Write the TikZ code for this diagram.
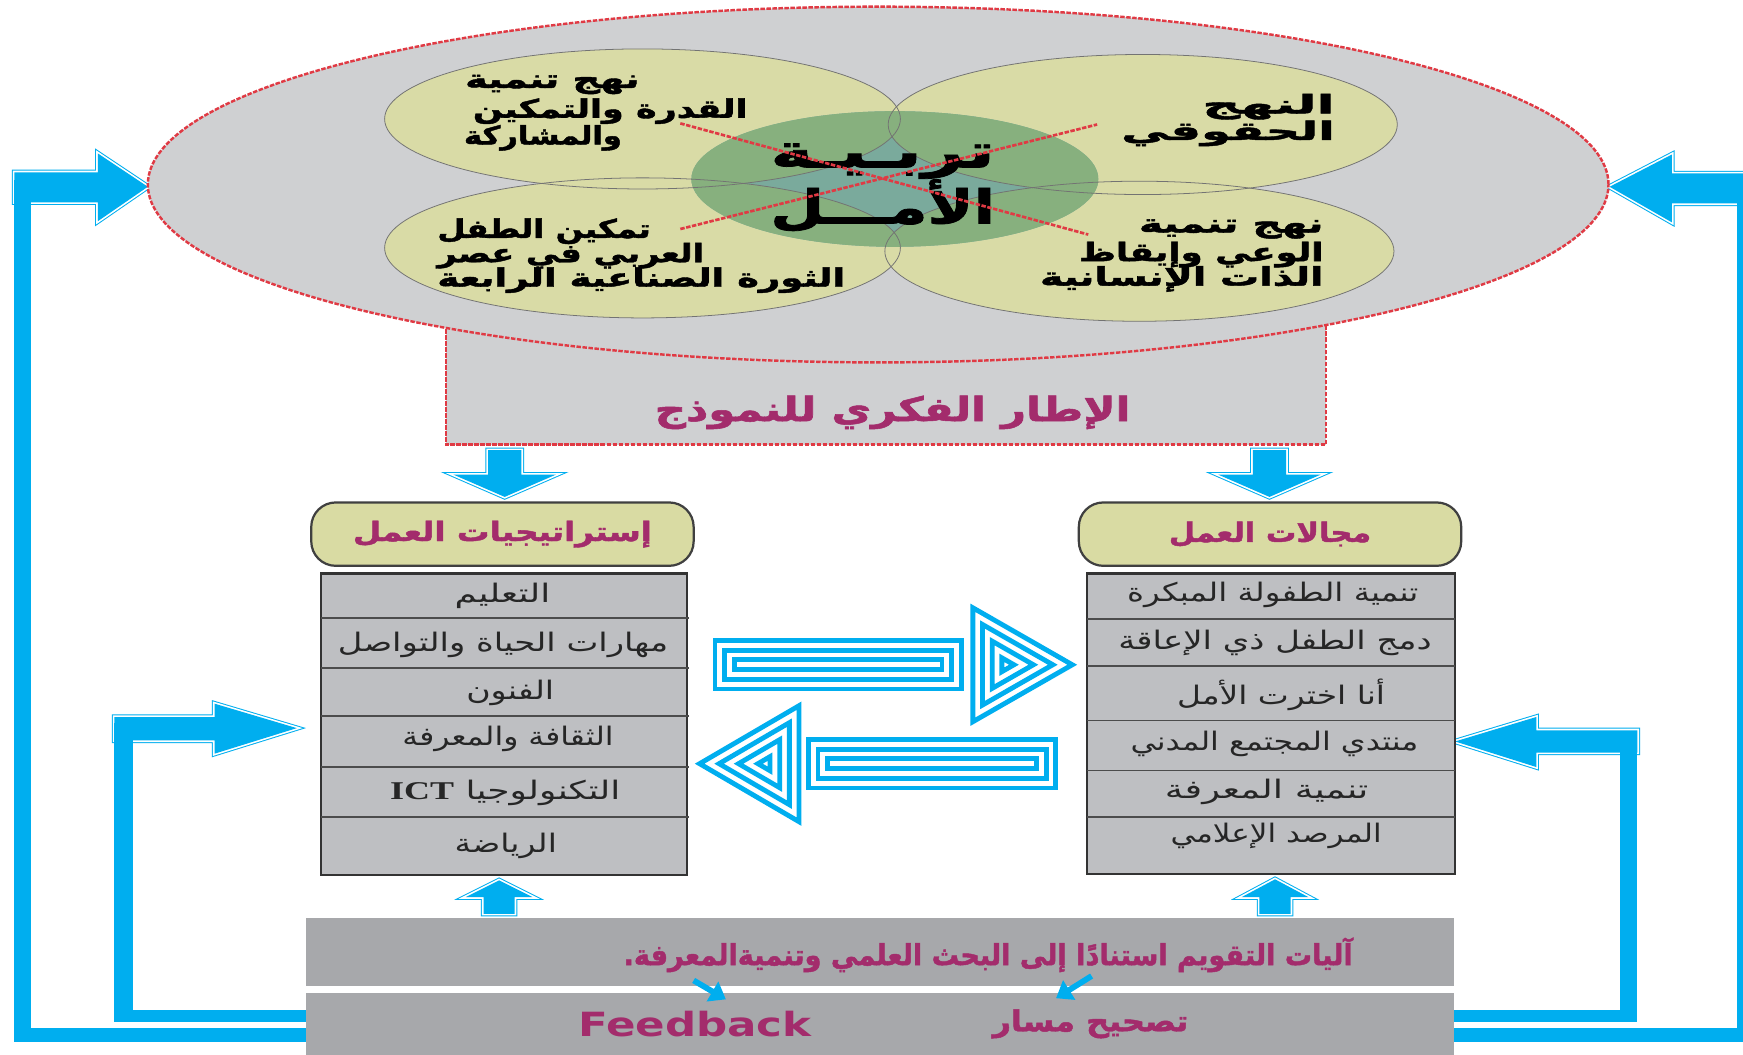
\documentclass[tikz,border=0pt]{standalone}
\usepackage{fontspec}
\usepackage{graphicx}
\TeXXeTstate=1
\newfontfamily\arb[Script=Arabic]{DejaVu Sans}
\newfontfamily\arbH[Script=Arabic, BoldFeatures={FakeBold=1.6}]{DejaVu Sans}
\newfontfamily\latb{DejaVu Sans}
\newfontfamily\serf{Liberation Serif}
\usetikzlibrary{calc,arrows.meta}
\definecolor{bggray}{HTML}{CFD0D2}
\definecolor{yel}{HTML}{D9DBA6}
\definecolor{grn}{HTML}{87B07E}
\definecolor{tealc}{HTML}{7AAA9C}
\definecolor{myred}{HTML}{E03A44}
\definecolor{myblue}{HTML}{00AEEF}
\definecolor{mag}{HTML}{A32C6C}
\definecolor{boxgray}{HTML}{BEBFC2}
\definecolor{bargray}{HTML}{A7A8AB}
\definecolor{hdr}{HTML}{D9DBA3}
\newcommand\AR[2]{\resizebox{#1}{\height}{#2}}
\newcommand\blk[1]{\path[draw=myblue,line width=2.4pt,line join=miter] #1; \path[draw=white,line width=1.5pt,line join=miter] #1; \path[fill=myblue] #1;}
\tikzset{
  reddash/.style={draw=myred, line width=1.1pt, dash pattern=on 2pt off 0.7pt},
  ellline/.style={draw=black!55, line width=0.35pt},
  stripe/.style={draw=myblue, line width=2.18pt, line join=miter},
  etext/.style={inner sep=0pt, font=\arbH\bfseries\fontsize{11.5}{13}\selectfont},
  ctr/.style={inner sep=0pt, font=\arbH\bfseries\fontsize{21}{24}\selectfont},
  magtext/.style={inner sep=0pt, text=mag, font=\arbH\bfseries\fontsize{12}{14}\selectfont},
  listtext/.style={inner sep=0pt, text=black!85, font=\arb\fontsize{11.5}{13}\selectfont},
  hdrbox/.style={draw=black!75, line width=1pt, fill=hdr, rounded corners=11pt, minimum width=172pt, minimum height=28.5pt},
  listbox/.style={draw=black!80, line width=1.1pt, fill=boxgray},
  sepline/.style={draw=black!70, line width=0.7pt},
}
\begin{document}
\begin{tikzpicture}[x=0.5pt,y=-0.5pt]
\useasboundingbox (0,0) rectangle (1568,949);
\fill[white] (0,0) rectangle (1568,949);

% ---- feedback loops
\blk{(13,155) -- (88,155) -- (88,138) -- (133,168) -- (88,199) -- (88,182) -- (13,182) -- cycle}
\fill[myblue] (13,162) rectangle (28,937);
\fill[myblue] (13,925) rectangle (280,937);
\blk{(1580,156) -- (1504,156) -- (1504,139) -- (1448,168) -- (1504,200) -- (1504,183) -- (1580,183) -- cycle}
\fill[myblue] (1563,162) rectangle (1580,937);
\fill[myblue] (1300,925) rectangle (1580,937);
\blk{(103,645) -- (193,645) -- (193,633) -- (267,655) -- (193,678) -- (193,666) -- (103,666) -- cycle}
\fill[myblue] (103,650) rectangle (120,919);
\fill[myblue] (103,909) rectangle (280,919);
\blk{(1473,657) -- (1382,657) -- (1382,645) -- (1309,667) -- (1382,690) -- (1382,677) -- (1473,677) -- cycle}
\fill[myblue] (1457,660) rectangle (1473,919);
\fill[myblue] (1300,909) rectangle (1473,919);

% ---- framework rectangle and big ellipse
\fill[bggray] (401,250) rectangle (1193,400);
\draw[reddash] (401,280) -- (401,400) -- (1193,400) -- (1193,280);
\draw[reddash, fill=bggray] (790,166) ellipse [x radius=328.5pt, y radius=80pt];

% ---- four ellipses and centre
\fill[yel] (578,107) ellipse [x radius=116pt, y radius=31.5pt];
\fill[yel] (1028,112) ellipse [x radius=114.5pt, y radius=31.5pt];
\fill[yel] (578,223) ellipse [x radius=116pt, y radius=31.5pt];
\fill[yel] (1025,226) ellipse [x radius=114.5pt, y radius=31.5pt];
\begin{scope}
\clip (805,161) ellipse [x radius=91.5pt, y radius=30.5pt];
\fill[tealc] (600,90) rectangle (1000,240);
\fill[grn] (578,107) ellipse [x radius=116pt, y radius=31.5pt];
\fill[grn] (1028,112) ellipse [x radius=114.5pt, y radius=31.5pt];
\fill[grn] (578,223) ellipse [x radius=116pt, y radius=31.5pt];
\fill[grn] (1025,226) ellipse [x radius=114.5pt, y radius=31.5pt];
\end{scope}
\draw[ellline] (578,107) ellipse [x radius=116pt, y radius=31.5pt];
\draw[ellline] (1028,112) ellipse [x radius=114.5pt, y radius=31.5pt];
\draw[ellline] (578,223) ellipse [x radius=116pt, y radius=31.5pt];
\draw[ellline] (1025,226) ellipse [x radius=114.5pt, y radius=31.5pt];

% ---- ellipse texts
\node[etext, anchor=west] (tl1) at (418,76) {\AR{78.5pt}{\beginR نهج تنمية\endR}};
\node[etext, anchor=west] (tl2) at (425,100) {\AR{123.5pt}{\beginR القدرة والتمكين\endR}};
\node[etext, anchor=west] (tl3) at (417,124) {\AR{71pt}{\beginR والمشاركة\endR}};
\node[etext, anchor=east] (tr1) at (1201,96) {\AR{59.5pt}{\beginR النهج\endR}};
\node[etext, anchor=east] (tr2) at (1201,120) {\AR{96pt}{\beginR الحقوقي\endR}};
\node[etext, anchor=west] (bl1) at (393,208) {\AR{96pt}{\beginR تمكين الطفل\endR}};
\node[etext, anchor=west] (bl2) at (393,230) {\AR{120pt}{\beginR العربي في عصر\endR}};
\node[etext, anchor=west] (bl3) at (393,252) {\AR{183.5pt}{\beginR الثورة الصناعية الرابعة\endR}};
\node[etext, anchor=east] (br1) at (1191,206) {\AR{83pt}{\beginR نهج تنمية\endR}};
\node[etext, anchor=east] (br2) at (1191,229) {\AR{110pt}{\beginR الوعي وإيقاظ\endR}};
\node[etext, anchor=east] (br3) at (1191,251) {\AR{127.5pt}{\beginR الذات الإنسانية\endR}};
\node[ctr] (c1) at (794,145) {\AR{101pt}{\beginR تربـيـة\endR}};
\node[ctr] (c2) at (794,185) {\AR{101pt}{\beginR الأمـــل\endR}};
\draw[reddash, line width=1.2pt] (612,111) -- (979,211);
\draw[reddash, line width=1.2pt] (612,206) -- (987,112);

\node[magtext, font=\arbH\bfseries\fontsize{15}{17}\selectfont] (fw) at (803,371) {\AR{214pt}{\beginR الإطار الفكري للنموذج\endR}};

% ---- down arrows
\blk{(439,405) -- (469,405) -- (469,427) -- (500,427) -- (454,447) -- (408,427) -- (439,427) -- cycle}
\blk{(1127,405) -- (1157,405) -- (1157,427) -- (1188,427) -- (1142,447) -- (1096,427) -- (1127,427) -- cycle}

% ---- headers
\node[hdrbox, magtext] (hl) at (452,480.5) {\AR{134.5pt}{\beginR إستراتيجيات العمل\endR}};
\node[hdrbox, magtext] (hr) at (1142.5,480.5) {\AR{91pt}{\beginR مجالات العمل\endR}};

% ---- list boxes
\node[listbox, minimum width=164.5pt, minimum height=135.5pt] (lb) at (453.5,651.5) {};
\node[listbox, minimum width=165.5pt, minimum height=135pt] (rb) at (1143.5,651) {};
\foreach \yy in {556,601,644,690,735} \draw[sepline] (289,\yy) -- (620,\yy);
\foreach \yy in {557,599,648,693,735} \draw[sepline] (978,\yy) -- (1309,\yy);
\node[listtext] (l1) at (452,536) {\AR{43pt}{\beginR التعليم\endR}};
\node[listtext] (l2) at (452.5,580) {\AR{148.5pt}{\beginR مهارات الحياة والتواصل\endR}};
\node[listtext] (l3) at (459,623) {\AR{39.5pt}{\beginR الفنون\endR}};
\node[listtext] (l4) at (457,665) {\AR{95pt}{\beginR الثقافة والمعرفة\endR}};
\node[listtext] (l5) at (454.5,713) {\AR{103.5pt}{\beginR التكنولوجيا \beginL{\serf\bfseries ICT}\endL\endR}};
\node[listtext] (l6) at (455,761) {\AR{46pt}{\beginR الرياضة\endR}};
\node[listtext] (r1) at (1145,535) {\AR{131pt}{\beginR تنمية الطفولة المبكرة\endR}};
\node[listtext] (r2) at (1147,578) {\AR{141pt}{\beginR دمج الطفل ذي الإعاقة\endR}};
\node[listtext] (r3) at (1152.5,625) {\AR{93.5pt}{\beginR أنا اخترت الأمل\endR}};
\node[listtext] (r4) at (1146.5,669) {\AR{129.5pt}{\beginR منتدي المجتمع المدني\endR}};
\node[listtext] (r5) at (1139.5,712) {\AR{91.5pt}{\beginR تنمية المعرفة\endR}};
\node[listtext] (r6) at (1148,752) {\AR{95pt}{\beginR المرصد الإعلامي\endR}};

% ---- middle exchange arrows
\foreach \d in {2.18,10.9,19.6} \draw[stripe] (641+\d,574+\d) rectangle (867-\d,622-\d);
\foreach \d in {2.18,10.9,19.6,28.3} {
  \pgfmathsetmacro\s{(31.9-\d)/31.9}
  \begin{scope}[shift={(904.9,598)}, scale=\s]
    \draw[stripe] (-31.9,-55) -- (-31.9,55) -- (64.1,0) -- cycle;
  \end{scope}
}
\foreach \d in {2.18,10.9,19.6} \draw[stripe] (725+\d,663+\d) rectangle (952-\d,711-\d);
\foreach \d in {2.18,10.9,19.6,28.3} {
  \pgfmathsetmacro\s{(31.9-\d)/31.9}
  \begin{scope}[shift={(689.1,687)}, scale=\s]
    \draw[stripe] (31.9,-56) -- (31.9,56) -- (-64.1,0) -- cycle;
  \end{scope}
}

% ---- up arrows
\blk{(435,822) -- (463,822) -- (463,807) -- (479,807) -- (449,792) -- (419,807) -- (435,807) -- cycle}
\blk{(1133,822) -- (1161,822) -- (1161,807) -- (1177,807) -- (1147,791) -- (1117,807) -- (1133,807) -- cycle}

% ---- bottom bars
\fill[bargray] (275,826) rectangle (1308,887);
\fill[bargray] (275,893) rectangle (1308,960);
\node[magtext, font=\arbH\bfseries\fontsize{13}{15}\selectfont] (eval) at (889,859) {\AR{328pt}{\beginR آليات التقويم استنادًا إلى البحث العلمي وتنميةالمعرفة.\endR}};
\node[inner sep=0pt, text=mag, font=\latb\bfseries\fontsize{15}{17}\selectfont] (fb) at (625,921) {\AR{105pt}{Feedback}};
\node[magtext, font=\arbH\bfseries\fontsize{13}{15}\selectfont] (tm) at (981,921) {\AR{88pt}{\beginR تصحيح مسار\endR}};
\coordinate (da1) at (624,882);
\coordinate (da2) at (653,899);
\coordinate (db1) at (982,878);
\coordinate (db2) at (950,898);
\draw[myblue, line width=2.6pt, -{Triangle[length=7pt,width=10pt]}] (da1) -- (da2);
\draw[myblue, line width=2.6pt, -{Triangle[length=7pt,width=10pt]}] (db1) -- (db2);
\end{tikzpicture}
\end{document}
